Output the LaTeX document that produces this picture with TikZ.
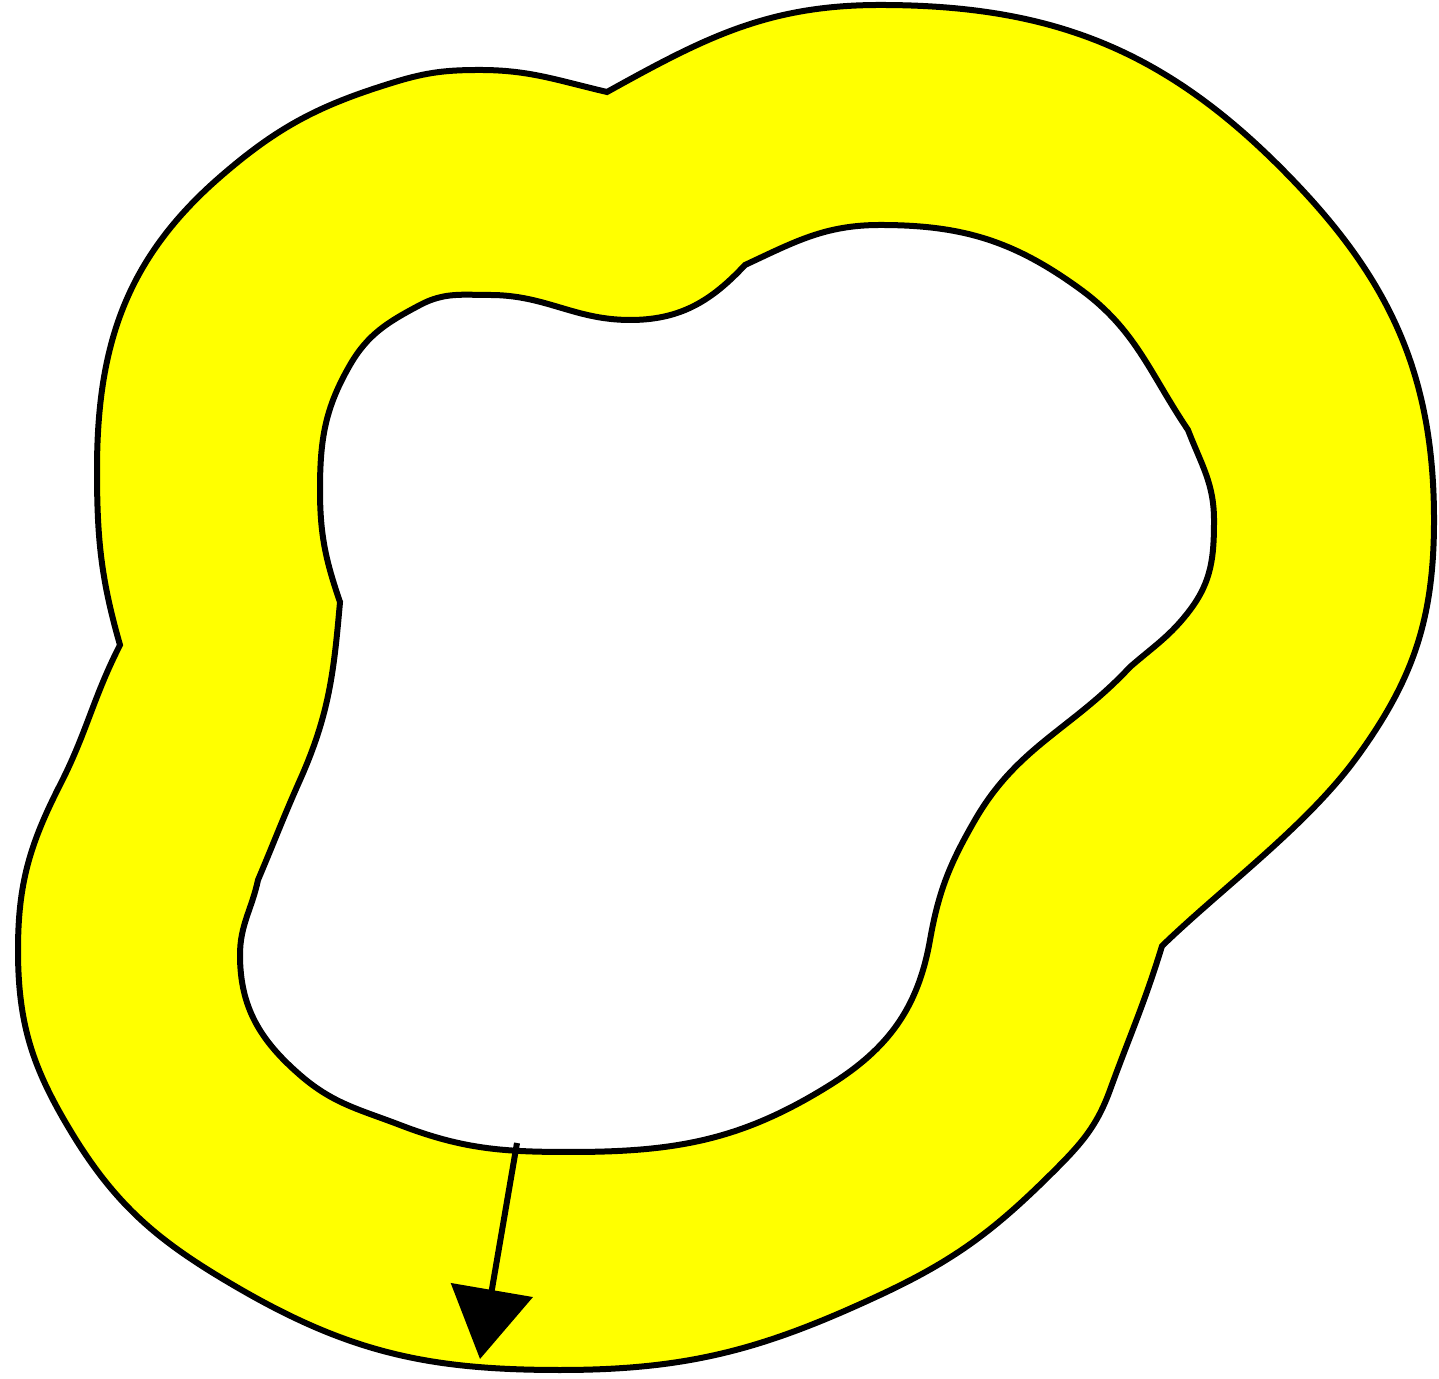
\documentclass[tikz,border=0pt]{standalone}
\usetikzlibrary{arrows.meta}
\definecolor{ringyellow}{HTML}{FFFF00}
\newcommand\myouter{%
  (607,1286) to[out=29,in=180] (880,1373) to[out=0,in=135] (1280,1211)
  to[out=-45,in=90] (1434,858) to[out=-90,in=54] (1357,621)
  to[out=-126,in=44,looseness=0.8] (1162,432)
  to[out=-107,in=70] (1110,288) to[out=-110,in=45] (1055,208)
  to[out=-135,in=25] (880,83) to[out=-155,in=0] (560,8)
  to[out=180,in=-30] (240,89) to[out=150,in=-59] (70,248)
  to[out=121,in=-90] (18,428) to[out=90,in=-117] (60,593)
  to[out=63,in=243] (120,733)
  to[out=106,in=-90] (97,908) to[out=90,in=-139] (220,1201)
  to[out=41,in=-163] (395,1296) to[out=17,in=180] (480,1308)
  to[out=0,in=167] (607,1286) -- cycle}
\newcommand\myinner{%
  (745,1113) to[out=25,in=180] (880,1153) to[out=0,in=144] (1080,1089)
  to[out=-36,in=124] (1188,948)
  to[out=-69,in=90] (1214,858) to[out=-90,in=53] (1190,768)
  to[out=-127,in=41] (1130,711)
  to[out=-133,in=60] (975,558) to[out=-120,in=80] (930,438)
  to[out=-100,in=32] (830,293) to[out=212,in=0] (570,226)
  to[out=180,in=-21] (400,253) to[out=159,in=-41] (300,303)
  to[out=139,in=-90] (240,423) to[out=90,in=258] (258,498)
  to[out=67,in=-114] (300,598) to[out=66,in=265] (340,776)
  to[out=109,in=-90] (320,888) to[out=90,in=-120] (350,1013)
  to[out=60,in=-152] (420,1073) to[out=28,in=180] (490,1083)
  to[out=0,in=180] (630,1058) to[out=0,in=227] (745,1113) -- cycle}
\begin{document}
\begin{tikzpicture}[x=1pt,y=1pt,
  outline/.style={draw=black,line width=6pt,line join=miter},
  pointer/.style={draw=black,line width=6pt,-{Triangle[length=70pt,width=82pt]}}]
\useasboundingbox (0,0) rectangle (1439,1378);
\fill[ringyellow,even odd rule] \myouter \myinner;
\path[outline] \myouter;
\path[outline] \myinner;
\coordinate (s) at (517,235);
\coordinate (t) at (480,19);
\path[pointer] (s) -- (t);
\end{tikzpicture}
\end{document}
